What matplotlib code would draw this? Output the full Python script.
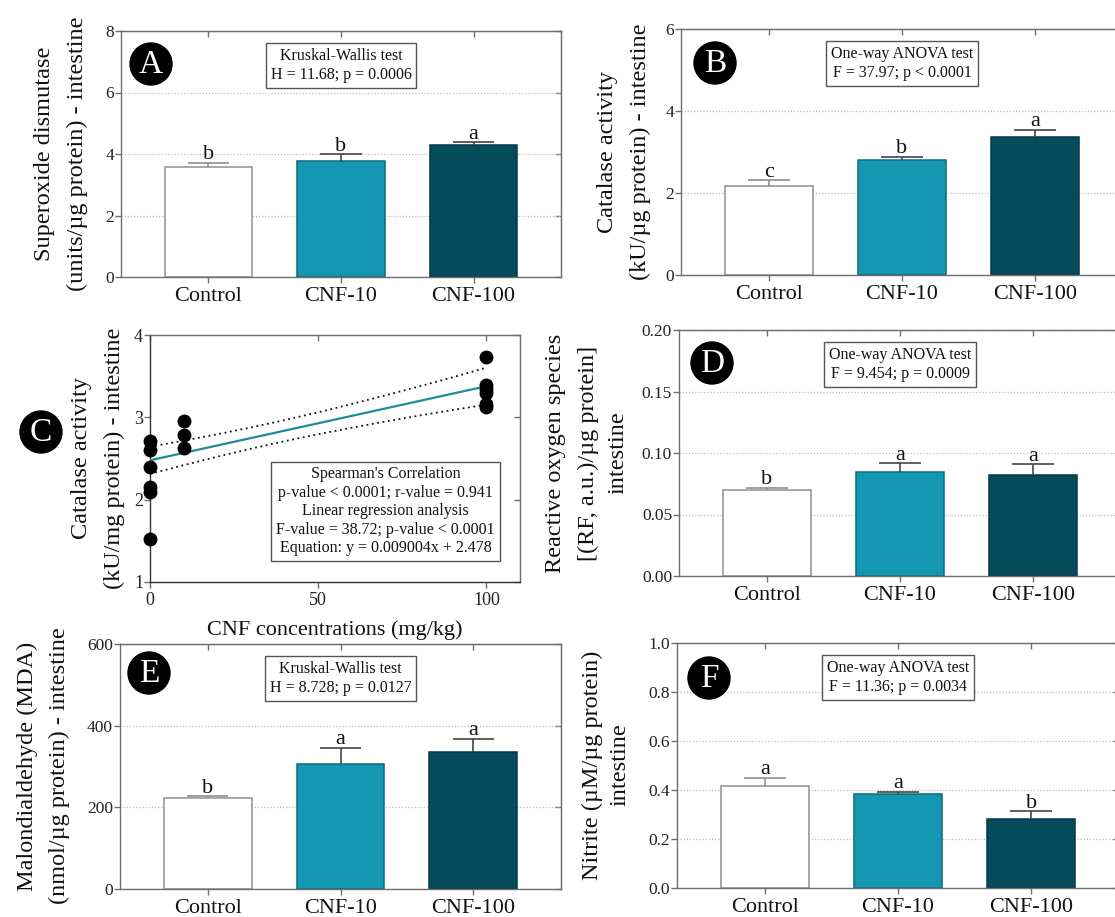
import matplotlib
matplotlib.use("Agg")
import matplotlib.pyplot as plt
from matplotlib.patches import Ellipse
import numpy as np

plt.rcParams['font.family'] = ['Liberation Serif', 'DejaVu Serif']
plt.rcParams['mathtext.fontset'] = 'stix'

# ---------------- data ----------------
groups = ["Control", "CNF-10", "CNF-100"]

sod_mean = [3.58, 3.76, 4.29]
sod_err = [0.13, 0.23, 0.10]
sod_letters = ["b", "b", "a"]

cat_mean = [2.16, 2.80, 3.36]
cat_err = [0.15, 0.08, 0.18]
cat_letters = ["c", "b", "a"]

ros_mean = [0.0699, 0.0843, 0.0824]
ros_err = [0.0019, 0.0073, 0.0084]
ros_letters = ["b", "a", "a"]

mda_mean = [222.6, 305.0, 335.0]
mda_err = [5.0, 41.5, 33.5]
mda_letters = ["b", "a", "a"]

nit_mean = [0.418, 0.382, 0.282]
nit_err = [0.032, 0.011, 0.032]
nit_letters = ["a", "a", "b"]

# panel C scatter (CNF dose vs catalase)
scat_x = [0, 0, 0, 0, 0, 0, 10, 10, 10, 100, 100, 100, 100, 100, 100]
scat_y = [2.71, 2.60, 2.40, 2.15, 2.09, 1.52, 2.96, 2.79, 2.63,
          3.73, 3.39, 3.34, 3.30, 3.16, 3.12]
reg_x = [0, 100]
reg_y = [2.478, 3.378]
ci_x = [0, 10, 20, 30, 40, 50, 60, 70, 80, 90, 100]
ci_upper = [2.643, 2.717, 2.794, 2.877, 2.966, 3.061, 3.162, 3.267, 3.375, 3.486, 3.603]
ci_lower = [2.313, 2.419, 2.522, 2.619, 2.710, 2.795, 2.874, 2.949, 3.021, 3.090, 3.153]

# ---------------- style ----------------
W, H = 1115, 917
fig = plt.figure(figsize=(W / 100, H / 100), dpi=100)

SPINE = "#6e6e6e"
GRID = "#bdbdbd"
bar_colors = ["#ffffff", "#1497b1", "#054b5c"]
bar_edges = ["#8f8f8f", "#0d6a7c", "#033a47"]
err_colors = ["#8f8f8f", "#444444", "#444444"]


def add_ax(l, t, r, b):
    return fig.add_axes([l / W, 1 - b / H, (r - l) / W, (b - t) / H])


def style_axes(ax, xticks, yticks):
    for s in ax.spines.values():
        s.set_color(SPINE)
        s.set_linewidth(1.0)
    ax.set_xticks(xticks)
    ax.set_yticks(yticks)
    ax.tick_params(axis='both', direction='out', length=4, width=1, color=SPINE)
    ax.tick_params(axis='y', labelsize=12.5, pad=1, labelcolor="#222222")
    sx = ax.secondary_xaxis('top')
    sx.set_xticks(xticks)
    sx.tick_params(axis='x', direction='in', length=4, width=1, color=SPINE,
                   labeltop=False, labelbottom=False)
    sx.spines['top'].set_color(SPINE)
    sy = ax.secondary_yaxis('right')
    sy.set_yticks(yticks)
    sy.tick_params(axis='y', direction='in', length=4, width=1, color=SPINE,
                   labelright=False, labelleft=False)
    sy.spines['right'].set_color(SPINE)


def circle_label(cx, cy, letter, r=21):
    e = Ellipse((cx / W, 1 - cy / H), 2 * r / W, 2 * r / H, transform=fig.transFigure,
                facecolor="black", edgecolor="black", zorder=10)
    fig.add_artist(e)
    fig.text(cx / W, 1 - (cy + 1) / H, letter, color="white", fontsize=24,
             ha="center", va="center", zorder=11)


def ylabel_lines(xs, cy, lines, size=17.5):
    for x, line in zip(xs, lines):
        fig.text(x / W, 1 - cy / H, line, rotation=90, ha="center", va="center",
                 fontsize=size, color="#111111")


def bar_panel(rect, means, errs, letters, yticks, ylim, fmt, stat_lines):
    ax = add_ax(*rect)
    x = np.arange(len(groups))
    ax.set_xlim(-0.66, 2.66)
    ax.set_ylim(*ylim)
    ax.yaxis.grid(True, linestyle=(0, (1, 1.5)), color=GRID, linewidth=0.9)
    ax.set_axisbelow(True)
    ax.bar(x, means, width=0.66, color=bar_colors, edgecolor=bar_edges,
           linewidth=1.1, zorder=2)
    tops = np.array(means) + np.array(errs)
    ax.vlines(x, means, tops, colors=err_colors, linewidth=1.2, zorder=3)
    ax.hlines(tops, x - 0.155, x + 0.155, colors=err_colors, linewidth=1.2, zorder=3)
    for xi, t, let in zip(x, tops, letters):
        ax.annotate(let, (xi, t), xytext=(0, 2.5), textcoords="offset points",
                    ha="center", va="baseline", fontsize=16, color="#111111")
    style_axes(ax, x, yticks)
    ax.set_xticklabels(groups, fontsize=16, color="#111111")
    ax.tick_params(axis='x', pad=3)
    ax.set_yticklabels([fmt.format(v) for v in yticks])
    ax.text(1, 0.86, "\n".join(stat_lines), transform=ax.get_xaxis_transform(),
            ha="center", va="center", fontsize=11.5, linespacing=1.25,
            multialignment="center", color="#111111",
            bbox=dict(boxstyle="square,pad=0.3", facecolor="white",
                      edgecolor="#555555", linewidth=1.0), zorder=5)
    return ax


# Panel A
bar_panel((121, 31, 561, 277), sod_mean, sod_err, sod_letters,
          [0, 2, 4, 6, 8], (0, 8), "{:.0f}",
          ["Kruskal-Wallis test", "H = 11.68; p = 0.0006"])
circle_label(151, 64, "A")
ylabel_lines([45, 77], 154, ["Superoxide dismutase", "(units/µg protein) - intestine"])

# Panel B
bar_panel((681, 29, 1123, 275), cat_mean, cat_err, cat_letters,
          [0, 2, 4, 6], (0, 6), "{:.0f}",
          ["One-way ANOVA test", "F = 37.97; p < 0.0001"])
circle_label(715, 63, "B")
ylabel_lines([608, 640], 152, ["Catalase activity", "(kU/µg protein) - intestine"])

# Panel D
bar_panel((679, 330, 1121, 576), ros_mean, ros_err, ros_letters,
          [0, 0.05, 0.10, 0.15, 0.20], (0, 0.20), "{:.2f}",
          ["One-way ANOVA test", "F = 9.454; p = 0.0009"])
circle_label(712, 363, "D")
ylabel_lines([555, 588, 618], 453, ["Reactive oxygen species",
                                     "[(RF, a.u.)/µg protein]", "intestine"])

# Panel E
bar_panel((120, 644, 561, 889), mda_mean, mda_err, mda_letters,
          [0, 200, 400, 600], (0, 600), "{:.0f}",
          ["Kruskal-Wallis test", "H = 8.728; p = 0.0127"])
circle_label(149, 673, "E")
ylabel_lines([27, 59], 766, ["Malondialdehyde (MDA)", "(nmol/µg protein) - intestine"])

# Panel F
bar_panel((677, 643, 1119, 888), nit_mean, nit_err, nit_letters,
          [0, 0.2, 0.4, 0.6, 0.8, 1.0], (0, 1.0), "{:.1f}",
          ["One-way ANOVA test", "F = 11.36; p = 0.0034"])
circle_label(709, 678, "F")
ylabel_lines([592, 620], 765, ["Nitrite (µM/µg protein)", "intestine"])

# Panel C
axc = add_ax(150, 335, 520, 582)
axc.set_xlim(0, 110)
axc.set_ylim(1, 4)
axc.plot(ci_x, ci_upper, linestyle=(0, (1, 2)), color="#111111", linewidth=1.3, zorder=2)
axc.plot(ci_x, ci_lower, linestyle=(0, (1, 2)), color="#111111", linewidth=1.3, zorder=2)
axc.plot(reg_x, reg_y, color="#1f8a9c", linewidth=1.6, zorder=3)
axc.plot(scat_x, scat_y, linestyle="none", marker="o", markersize=9,
         color="black", clip_on=False, zorder=4)
style_axes(axc, [0, 50, 100], [1, 2, 3, 4])
axc.spines['left'].set_color("#333333")
axc.spines['bottom'].set_color("#333333")
axc.tick_params(axis='x', labelsize=13, pad=3, labelcolor="#222222")
axc.tick_params(axis='y', labelsize=13)
axc.set_xlabel("CNF concentrations (mg/kg)", fontsize=16, color="#111111", labelpad=8)
axc.text(70, 0.287, "Spearman's Correlation\np-value < 0.0001; r-value = 0.941\n"
         "Linear regression analysis\nF-value = 38.72; p-value < 0.0001\n"
         "Equation: y = 0.009004x + 2.478",
         transform=axc.get_xaxis_transform(), ha="center", va="center",
         fontsize=11.5, linespacing=1.2, multialignment="center", color="#111111",
         bbox=dict(boxstyle="square,pad=0.3", facecolor="white",
                   edgecolor="#555555", linewidth=1.0), zorder=5)
circle_label(41, 432, "C")
ylabel_lines([82, 114], 458, ["Catalase activity", "(kU/mg protein) - intestine"])

fig.savefig("out.png", dpi=100)
